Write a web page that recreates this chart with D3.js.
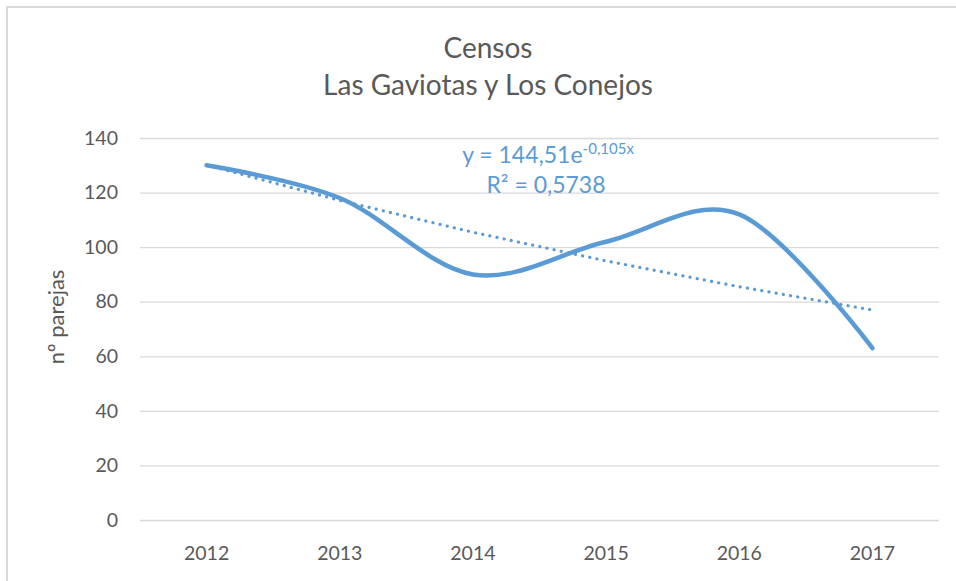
<!DOCTYPE html>
<html><head><meta charset="utf-8">
<script src="https://cdn.jsdelivr.net/npm/d3@7"></script>
<style>body{margin:0;background:#fff;}svg{display:block;}</style>
</head><body>
<svg id="c" width="956" height="581"></svg>
<script>
const years = ["2012","2013","2014","2015","2016","2017"];
const parejas = [130, 118, 90, 102, 112, 63];
const yTicks = [0,20,40,60,80,100,120,140];
const trendA = 144.51, trendB = -0.105;
const titleLines = ["Censos","Las Gaviotas y Los Conejos"];
const yTitle = "nº parejas";

(function(){
const svg = d3.select("#c");
const W = 956, H = 581;
const pL = 140, pR = 939, pT = 138, pB = 520;
const font = "Lato, 'Open Sans', sans-serif";
const blue = "#5b9bd5";

svg.append("rect").attr("x",7).attr("y",7).attr("width",W).attr("height",H)
  .attr("fill","#fff").attr("stroke","#d9d9d9").attr("stroke-width",2);

const x = d3.scaleBand().domain(years).range([pL,pR]);
const y = d3.scaleLinear().domain([0,140]).range([pB,pT]);
const cx = d => x(d) + x.bandwidth()/2;

const yAxis = d3.axisLeft(y).tickValues(yTicks).tickSize(-(pR-pL)).tickPadding(22);
const gy = svg.append("g").attr("transform",`translate(${pL},0)`).call(yAxis);
gy.select(".domain").remove();
gy.selectAll(".tick line").attr("stroke","#d9d9d9").attr("stroke-width",1.3);
gy.selectAll(".tick text").attr("fill","#595959").style("font-family",font).style("font-size","19.5px");

const xAxis = d3.axisBottom(x).tickSize(0).tickPadding(26);
const gx = svg.append("g").attr("transform",`translate(0,${pB})`).call(xAxis);
gx.select(".domain").remove();
gx.selectAll(".tick text").attr("fill","#595959").style("font-family",font).style("font-size","19.5px");

const trend = years.map((yr,i)=>({yr, v: trendA*Math.exp(trendB*(i+1))}));
svg.append("path").datum(trend)
  .attr("d", d3.line().x(d=>cx(d.yr)).y(d=>y(d.v)))
  .attr("fill","none").attr("stroke",blue).attr("stroke-width",3.2)
  .attr("stroke-linecap","round").attr("stroke-dasharray","0.1 7.2");

svg.append("path").datum(parejas)
  .attr("d", d3.line().x((d,i)=>cx(years[i])).y(d=>y(d)).curve(d3.curveCardinal.tension(0)))
  .attr("fill","none").attr("stroke",blue).attr("stroke-width",4.5)
  .attr("stroke-linecap","round").attr("stroke-linejoin","round");

svg.append("text").attr("x",488).attr("y",58).attr("text-anchor","middle")
  .attr("fill","#595959").style("font-family",font).style("font-size","28px").text(titleLines[0]);
svg.append("text").attr("x",488).attr("y",95).attr("text-anchor","middle")
  .attr("fill","#595959").style("font-family",font).style("font-size","28px").text(titleLines[1]);

svg.append("text").attr("transform","translate(64,317) rotate(-90)").attr("text-anchor","middle")
  .attr("fill","#595959").style("font-family",font).style("font-size","22px").text(yTitle);

const eq = svg.append("text").attr("x",548).attr("y",163).attr("text-anchor","middle")
  .attr("fill",blue).style("font-family",font).style("font-size","23px");
eq.append("tspan").text("y = 144,51e");
eq.append("tspan").attr("dy",-9).style("font-size","15px").text("-0,105x");
svg.append("text").attr("x",546).attr("y",193).attr("text-anchor","middle")
  .attr("fill",blue).style("font-family",font).style("font-size","23px").text("R² = 0,5738");
})();
</script>
</body></html>
